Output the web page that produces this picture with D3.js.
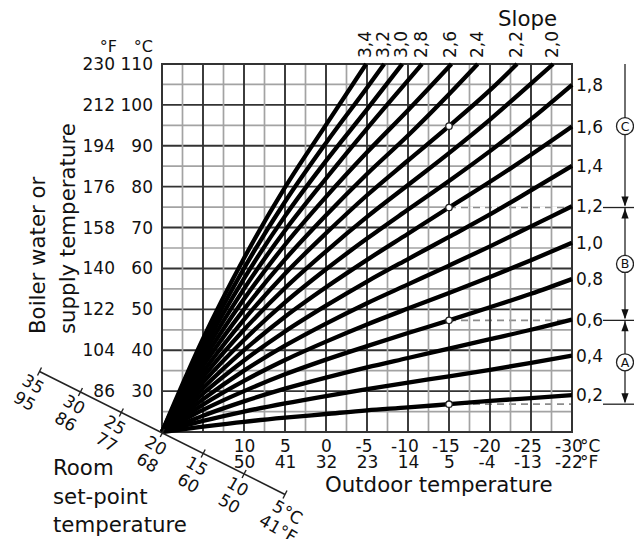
<!DOCTYPE html>
<html>
<head>
<meta charset="utf-8">
<script src="https://cdn.jsdelivr.net/npm/d3@7"></script>
<style>
  html, body { margin: 0; padding: 0; background: #fff; }
  svg { display: block; font-family: "DejaVu Sans", sans-serif; }
</style>
</head>
<body>
<svg id="chart" width="634" height="539"></svg>
<script>
// Heating curves: supply temperature (°C) for each slope at the outdoor temperatures below.
const outdoorTemps = [20, 15, 10, 5, 0, -5, -10, -15, -20, -25, -30];
const slopes = [0.2, 0.4, 0.6, 0.8, 1.0, 1.2, 1.4, 1.6, 1.8, 2.0, 2.2, 2.4, 2.6, 2.8, 3.0, 3.2, 3.4];
const supplyTemps = [
  [20, 21.3, 22.5, 23.5, 24.4, 25.3, 26.0, 26.8, 27.6, 28.3, 29.0],   // 0,2
  [20, 22.7, 25.0, 27.0, 28.8, 30.5, 32.1, 33.6, 35.2, 36.9, 38.7],   // 0,4
  [20, 24.0, 27.5, 30.6, 33.3, 35.8, 38.1, 40.4, 42.7, 45.0, 47.5],   // 0,6
  [20, 25.4, 30.0, 34.1, 37.7, 41.0, 44.2, 47.3, 50.5, 53.8, 57.4],   // 0,8
  [20, 26.7, 32.5, 37.6, 42.1, 46.3, 50.2, 54.0, 57.9, 62.0, 66.3],   // 1,0
  [20, 28.0, 35.0, 41.1, 46.5, 51.5, 56.1, 60.7, 65.4, 70.3, 75.2],   // 1,2
  [20, 29.4, 37.5, 44.6, 50.9, 56.8, 62.3, 67.7, 73.2, 79.1, 85.1],   // 1,4
  [20, 30.7, 40.0, 48.2, 55.4, 62.1, 68.5, 74.9, 81.2, 87.8, 94.7],   // 1,6
  [20, 32.1, 42.5, 51.7, 59.8, 67.3, 74.4, 81.4, 88.7, 96.5, 104.9],  // 1,8
  [20, 33.4, 45.0, 55.2, 64.2, 72.6, 80.4, 88.2, 96.4, 105.2],        // 2,0
  [20, 34.7, 47.5, 58.7, 68.6, 77.9, 86.4, 94.8, 103.6],              // 2,2
  [20, 36.1, 50.0, 62.2, 73.0, 83.1, 92.5, 102.6],                    // 2,4
  [20, 37.4, 52.5, 65.8, 77.5, 88.4, 98.7],                           // 2,6
  [20, 38.8, 55.0, 69.3, 82.0, 94.2, 106.0],                          // 2,8
  [20, 40.1, 57.5, 72.8, 86.3, 98.9],                                 // 3,0
  [20, 41.4, 60.0, 76.3, 90.7, 104.2],                                // 3,2
  [20, 42.8, 62.5, 79.8, 95.1]                                        // 3,4
];
// Outdoor temperature at which the steep curves reach the 110 °C limit.
const exitOutdoor = [null, null, null, null, null, null, null, null, null,
                     -27.7, -23.3, -18.5, -15.3, -11.7, -9.3, -7.1, -4.9];
const supplyMax = 110;

// Axis labels
const supplyTicksC = [30, 40, 50, 60, 70, 80, 90, 100, 110];
const supplyTicksF = [86, 104, 122, 140, 158, 176, 194, 212, 230];
const outdoorTicksC = [10, 5, 0, -5, -10, -15, -20, -25, -30];
const outdoorTicksF = [50, 41, 32, 23, 14, 5, -4, -13, -22];
const roomTicksC = [35, 30, 25, 20, 15, 10, 5];
const roomTicksF = [95, 86, 77, 68, 60, 50, 41];

// Reference points at -15 °C and the slope ranges A, B, C
const markerOutdoor = -15;
const markerSlopes = [0.2, 0.8, 1.6, 2.2];
const rangeNames = ["A", "B", "C"];

const svg = d3.select("#chart");
const fontSmall = 17, fontTitle = 21.3;

const x = d3.scaleLinear().domain([20, -30]).range([162, 572]);
const y = d3.scaleLinear().domain([20, 110]).range([432, 64]);
const slopeFmt = d3.formatLocale({decimal: ",", thousands: " ", grouping: [3], currency: ["", ""]}).format(".1f");

const curvePoints = slopes.map((s, i) => {
  const pts = supplyTemps[i].map((v, j) => [outdoorTemps[j], v]);
  if (exitOutdoor[i] !== null) pts.push([exitOutdoor[i], supplyMax]);
  return pts;
});
const supplyAt = (s, t) => {
  const i = slopes.indexOf(s);
  return supplyTemps[i][outdoorTemps.indexOf(t)];
};
const boundaryY = markerSlopes.slice(0, 3).map(s => y(supplyAt(s, markerOutdoor)));

// ---- grid: horizontal lines ----
const hVals = d3.range(20, 110.1, 5);
const vVals = d3.range(20, -30.1, -2.5);
const isMajorH = v => v % 10 === 0;
const isMajorV = v => v % 5 === 0;
const hgrid = svg.append("g");
hgrid.selectAll(".hmin").data(hVals.filter(v => !isMajorH(v))).join("line")
  .attr("x1", x(20)).attr("x2", x(-30)).attr("y1", d => y(d)).attr("y2", d => y(d))
  .attr("stroke", "#a3a3a3").attr("stroke-width", 1.7);
hgrid.selectAll(".hmaj").data(hVals.filter(isMajorH)).join("line")
  .attr("x1", x(20)).attr("x2", x(-30)).attr("y1", d => y(d)).attr("y2", d => y(d))
  .attr("stroke", "#333").attr("stroke-width", 1.9);

// dashed reference lines from the -15 °C points; they interrupt the horizontal grid
const dashG = svg.append("g");
dashG.selectAll(".under").data(boundaryY).join("line")
  .attr("x1", x(markerOutdoor)).attr("x2", x(-30))
  .attr("y1", d => d).attr("y2", d => d)
  .attr("stroke", "#fff").attr("stroke-width", 2.6);
dashG.selectAll(".dash").data(boundaryY).join("line")
  .attr("x1", x(markerOutdoor)).attr("x2", x(-30))
  .attr("y1", d => d).attr("y2", d => d)
  .attr("stroke", "#8c8c8c").attr("stroke-width", 1.7).attr("stroke-dasharray", "7,5");

// ---- grid: vertical lines and frame ----
const vgrid = svg.append("g");
vgrid.selectAll(".vmin").data(vVals.filter(v => !isMajorV(v))).join("line")
  .attr("y1", y(20)).attr("y2", y(110)).attr("x1", d => x(d)).attr("x2", d => x(d))
  .attr("stroke", "#a3a3a3").attr("stroke-width", 1.7);
vgrid.selectAll(".vmaj").data(vVals.filter(isMajorV)).join("line")
  .attr("y1", y(20)).attr("y2", y(110)).attr("x1", d => x(d)).attr("x2", d => x(d))
  .attr("stroke", "#333").attr("stroke-width", 1.9);
vgrid.append("rect")
  .attr("x", x(20)).attr("y", y(110)).attr("width", x(-30) - x(20)).attr("height", y(20) - y(110))
  .attr("fill", "none").attr("stroke", "#333").attr("stroke-width", 2);

// ---- heating curves ----
const line = d3.line().x(d => x(d[0])).y(d => y(d[1])).curve(d3.curveMonotoneX);
svg.append("g").selectAll("path").data(curvePoints).join("path")
  .attr("d", line).attr("fill", "none").attr("stroke", "#000")
  .attr("stroke-width", 4.3).attr("stroke-linejoin", "round");

// ---- markers ----
svg.append("g").selectAll("circle").data(markerSlopes).join("circle")
  .attr("cx", x(markerOutdoor)).attr("cy", s => y(supplyAt(s, markerOutdoor)))
  .attr("r", 3.2).attr("fill", "#fff").attr("stroke", "#222").attr("stroke-width", 1.3);

// ---- slope labels ----
const labelG = svg.append("g").attr("font-size", fontSmall).attr("fill", "#111");
slopes.forEach((s, i) => {
  const pts = curvePoints[i];
  const last = pts[pts.length - 1];
  if (exitOutdoor[i] === null) {
    labelG.append("text").attr("x", x(-30) + 4).attr("y", y(last[1]))
      .attr("dominant-baseline", "central").text(slopeFmt(s));
  } else {
    labelG.append("text")
      .attr("transform", `translate(${x(last[0]) - 1},${y(supplyMax) - 6}) rotate(-90)`)
      .attr("dominant-baseline", "central").text(slopeFmt(s));
  }
});
svg.append("text").attr("x", 498).attr("y", 25.5).attr("font-size", fontTitle)
  .attr("fill", "#111").text("Slope");

// ---- supply temperature axes (°C and °F) ----
const axC = svg.append("g").attr("transform", `translate(${x(20)},0)`)
  .call(d3.axisLeft(y).tickValues(supplyTicksC).tickSize(0).tickPadding(9).tickFormat(d => String(d)));
const axF = svg.append("g").attr("transform", `translate(${x(20) - 38},0)`)
  .call(d3.axisLeft(y).tickValues(supplyTicksC).tickSize(0).tickPadding(9)
    .tickFormat((d, i) => String(supplyTicksF[i])));
[axC, axF].forEach(a => {
  a.select(".domain").remove();
  a.attr("font-family", null).attr("font-size", fontSmall);
  a.selectAll("text").attr("fill", "#111");
});
svg.append("text").attr("x", 117).attr("y", 52).attr("text-anchor", "end")
  .attr("font-size", 16).attr("fill", "#111").text("°F");
svg.append("text").attr("x", 153).attr("y", 52).attr("text-anchor", "end")
  .attr("font-size", 16).attr("fill", "#111").text("°C");

// ---- outdoor temperature axes (°C and °F) ----
const axOC = svg.append("g").attr("transform", `translate(0,${y(20)})`)
  .call(d3.axisBottom(x).tickValues(outdoorTicksC).tickSize(0).tickPadding(8).tickFormat(d => String(d)));
const axOF = svg.append("g").attr("transform", `translate(0,${y(20)})`)
  .call(d3.axisBottom(x).tickValues(outdoorTicksC).tickSize(0).tickPadding(23.5)
    .tickFormat((d, i) => String(outdoorTicksF[i])));
[axOC, axOF].forEach(a => {
  a.select(".domain").remove();
  a.attr("font-family", null).attr("font-size", fontSmall);
  a.selectAll("text").attr("fill", "#111")
    .attr("dx", function () { return this.textContent.startsWith("-") ? -3.5 : 0; });
});
svg.append("text").attr("x", x(-30) + 8).attr("y", y(20) + 20).attr("font-size", fontSmall)
  .attr("fill", "#111").text("°C");
svg.append("text").attr("x", x(-30) + 8).attr("y", y(20) + 35.5).attr("font-size", fontSmall)
  .attr("fill", "#111").text("°F");
svg.append("text").attr("x", 325).attr("y", 491.5).attr("font-size", fontTitle)
  .attr("fill", "#111").text("Outdoor temperature");

// ---- supply axis title ----
const yTitle = svg.append("g").attr("font-size", fontTitle).attr("fill", "#111");
yTitle.append("text").attr("transform", "translate(45,334) rotate(-90)").text("Boiler water or");
yTitle.append("text").attr("transform", "translate(75,334) rotate(-90)").text("supply temperature");

// ---- room set-point axis ----
const roomX = d3.scaleLinear().domain([35, 5]).range([39.5, 285]);
const roomY = d3.scaleLinear().domain([35, 5]).range([371.5, 494.5]);
const dxR = roomX(5) - roomX(35), dyR = roomY(5) - roomY(35);
const lenR = Math.hypot(dxR, dyR);
const ux = dxR / lenR, uy = dyR / lenR;       // along the axis
const nx = -uy, ny = ux;                       // perpendicular, pointing down-left
const roomG = svg.append("g");
roomG.append("line")
  .attr("x1", roomX(35)).attr("y1", roomY(35)).attr("x2", roomX(5)).attr("y2", roomY(5))
  .attr("stroke", "#222").attr("stroke-width", 1.6);
roomG.selectAll(".tick").data(roomTicksC).join("line")
  .attr("x1", d => roomX(d) - nx * 4.5).attr("y1", d => roomY(d) - ny * 4.5)
  .attr("x2", d => roomX(d) + nx * 4.5).attr("y2", d => roomY(d) + ny * 4.5)
  .attr("stroke", "#222").attr("stroke-width", 1.4);
const labelAngle = 30;
roomTicksC.forEach((t, i) => {
  [[String(t), 14, "°C"], [String(roomTicksF[i]), 33, "°F"]].forEach(([num, off, unit]) => {
    const cx = roomX(t) + nx * off, cy = roomY(t) + ny * off;
    const g = roomG.append("g")
      .attr("transform", `translate(${cx},${cy}) rotate(${labelAngle})`)
      .attr("font-size", fontSmall).attr("fill", "#111");
    const txt = g.append("text").attr("text-anchor", "middle")
      .attr("dominant-baseline", "central").text(num);
    if (i === roomTicksC.length - 1) {
      const w = txt.node().getComputedTextLength();
      g.append("text").attr("x", w / 2).attr("dominant-baseline", "central").text(unit);
    }
  });
});
const roomTitle = svg.append("g").attr("font-size", fontTitle).attr("fill", "#111");
["Room", "set-point", "temperature"].forEach((s, i) => {
  roomTitle.append("text").attr("x", 53).attr("y", 475 + i * 28.5).text(s);
});

// ---- slope ranges A, B, C ----
const bx = 625;
const rangeG = svg.append("g");
boundaryY.forEach(by => {
  rangeG.append("line").attr("x1", 603).attr("x2", 634).attr("y1", by).attr("y2", by)
    .attr("stroke", "#222").attr("stroke-width", 1.3);
});
const arrow = (tipY, dir) => {   // dir = +1 points down, -1 points up
  const h = 10, w = 3.6;
  rangeG.append("path")
    .attr("d", `M${bx},${tipY} L${bx - w},${tipY - dir * h} L${bx + w},${tipY - dir * h} Z`)
    .attr("fill", "#111");
};
const segs = [
  {top: boundaryY[1], bottom: boundaryY[0], arrowTop: true, cy: (boundaryY[0] + boundaryY[1]) / 2},
  {top: boundaryY[2], bottom: boundaryY[1], arrowTop: true, cy: (boundaryY[1] + boundaryY[2]) / 2},
  {top: y(supplyMax), bottom: boundaryY[2], arrowTop: false, cy: y(supplyAt(markerSlopes[3], markerOutdoor))}
];
segs.forEach((sg, i) => {
  rangeG.append("line").attr("x1", bx).attr("x2", bx).attr("y1", sg.top).attr("y2", sg.bottom - 2)
    .attr("stroke", "#222").attr("stroke-width", 1.3);
  arrow(sg.bottom - 1, 1);
  if (sg.arrowTop) arrow(sg.top + 1, -1);
  rangeG.append("circle").attr("cx", bx).attr("cy", sg.cy).attr("r", 8.5)
    .attr("fill", "#fff").attr("stroke", "#222").attr("stroke-width", 1.3);
  rangeG.append("text").attr("x", bx).attr("y", sg.cy).attr("text-anchor", "middle")
    .attr("dominant-baseline", "central").attr("font-size", 12.5).attr("fill", "#111")
    .text(rangeNames[i]);
});
</script>
</body>
</html>
